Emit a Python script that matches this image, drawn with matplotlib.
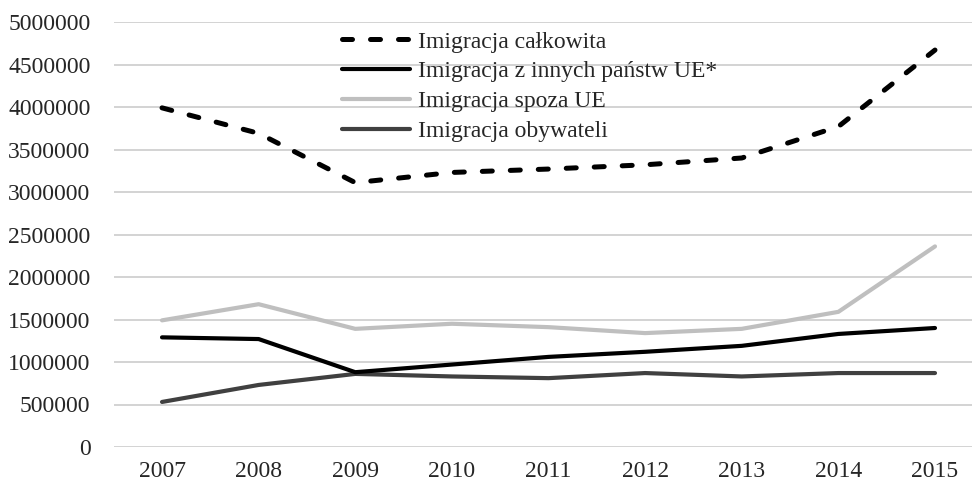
import matplotlib.pyplot as plt

plt.rcParams['font.family'] = ['Liberation Serif', 'DejaVu Serif']

years = ['2007', '2008', '2009', '2010', '2011', '2012', '2013', '2014', '2015']

# wartości
imigracja_calkowita = [3990000, 3690000, 3110000, 3230000, 3270000, 3320000, 3400000, 3770000, 4670000]
imigracja_ue = [1290000, 1270000, 880000, 970000, 1060000, 1120000, 1190000, 1330000, 1400000]
imigracja_spoza_ue = [1490000, 1680000, 1390000, 1450000, 1410000, 1340000, 1390000, 1590000, 2360000]
imigracja_obywateli = [530000, 730000, 860000, 830000, 810000, 870000, 830000, 870000, 870000]

yticks = list(range(0, 5000001, 500000))

fig = plt.figure(figsize=(9.72, 4.84), dpi=100)
ax = fig.add_axes([114 / 972, 37 / 484, (972 - 114) / 972, 425 / 484])

x = list(range(len(years)))

ax.plot(x, imigracja_calkowita, color='black', linewidth=3.6, linestyle=(0, (2, 3.6)),
        dash_capstyle='round', label='Imigracja całkowita', zorder=5)
ax.plot(x, imigracja_ue, color='black', linewidth=3, solid_capstyle='round',
        label='Imigracja z innych państw UE*', zorder=4)
ax.plot(x, imigracja_spoza_ue, color='#bfbfbf', linewidth=3, solid_capstyle='round',
        label='Imigracja spoza UE', zorder=3)
ax.plot(x, imigracja_obywateli, color='#404040', linewidth=3, solid_capstyle='round',
        label='Imigracja obywateli', zorder=3)

ax.set_xlim(-0.497, 8.383)
ax.set_ylim(0, 5000000)
ax.set_xticks(x)
ax.set_xticklabels(years)
ax.set_yticks(yticks)
ax.set_yticklabels([str(v) for v in yticks])
ax.tick_params(axis='both', length=0, labelsize=17, colors='#262626')
ax.tick_params(axis='y', pad=17)
ax.tick_params(axis='x', pad=10)

ax.grid(axis='y', color='#d0d0d0', linewidth=1.3)
ax.set_axisbelow(True)
for s in ax.spines.values():
    s.set_visible(False)

leg = ax.legend(loc='upper left', bbox_to_anchor=(342 / 972, 1 - 31 / 484),
                bbox_transform=fig.transFigure, frameon=False, fontsize=17,
                handlelength=2.9, handletextpad=0.3, labelspacing=0.35,
                borderaxespad=0, borderpad=0)
for t in leg.get_texts():
    t.set_color('#262626')

fig.savefig('out.png', dpi=100)
